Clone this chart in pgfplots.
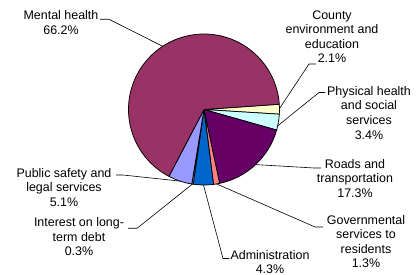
\documentclass[border=0pt]{standalone}
\usepackage{pgfplots}
\usepackage{pgfplotstable}
\pgfplotsset{compat=1.18}
\usepackage{fontspec}
\setmainfont{Liberation Sans}
\definecolor{slice0}{HTML}{FFFFCC}
\definecolor{slice1}{HTML}{CCFFFF}
\definecolor{slice2}{HTML}{660066}
\definecolor{slice3}{HTML}{FF8080}
\definecolor{slice4}{HTML}{0066CC}
\definecolor{slice5}{HTML}{CCCCFF}
\definecolor{slice6}{HTML}{9999FF}
\definecolor{slice7}{HTML}{993366}
\pgfplotstableread{
value
2.1
3.4
17.3
1.3
4.3
0.3
5.1
66.2
}\piedata
\newcommand\lbl[3]{\node[anchor=base,inner sep=0pt] at (axis cs:#1,{275-#2}) {#3};}
\begin{document}
\begin{tikzpicture}
\begin{axis}[
  x=1bp, y=1bp, xmin=0, xmax=417, ymin=0, ymax=275,
  hide axis, clip=false, scale only axis,
]
\pgfplotsextra{%
  \path (axis cs:0,0) rectangle (axis cs:417,275);
  \gdef\curang{4}%
  \foreach \i in {0,...,7}{%
    \pgfplotstablegetelem{\i}{value}\of\piedata
    \pgfmathsetmacro\endang{\curang-3.6*\pgfplotsretval}%
    \filldraw[fill=slice\i, draw=black, line width=0.75bp, line join=round]
      (axis cs:204,165.5) -- (axis cs:{204+75.5*cos(\curang)},{165.5+75.5*sin(\curang)})
      arc[start angle=\curang, end angle=\endang, radius=75.5bp] -- cycle;
    \xdef\curang{\endang}%
  }%
  \begin{scope}[line width=0.6bp]
  \draw (axis cs:100,{275-19.3}) -- (axis cs:109,{275-19.3}) -- (axis cs:162.7,{275-46.3});
  \draw (axis cs:316,{275-64}) -- (axis cs:309,{275-64}) -- (axis cs:279.5,{275-108.5});
  \draw (axis cs:325,{275-92.5}) -- (axis cs:319,{275-92.5}) -- (axis cs:277.5,{275-126});
  \draw (axis cs:321,{275-168}) -- (axis cs:314,{275-168}) -- (axis cs:255.6,{275-164.6});
  \draw (axis cs:323,{275-227}) -- (axis cs:315,{275-227}) -- (axis cs:216.6,{275-183.9});
  \draw (axis cs:229,{275-258.5}) -- (axis cs:223,{275-258.5}) -- (axis cs:203.5,{275-185});
  \draw (axis cs:128,{275-228.3}) -- (axis cs:137,{275-228.3}) -- (axis cs:192.4,{275-184.1});
  \draw (axis cs:116,{275-175}) -- (axis cs:123,{275-175}) -- (axis cs:179.9,{275-181.1});
  \end{scope}
  \begin{scope}[font=\fontsize{12.5}{14.5}\selectfont]
  \lbl{61}{19.3}{Mental health}
  \lbl{61}{34.5}{66.2\%}
  \lbl{332}{19}{County}
  \lbl{332}{33.5}{environment and}
  \lbl{332}{48}{education}
  \lbl{332}{62.5}{2.1\%}
  \lbl{369}{95}{Physical health}
  \lbl{369}{109.7}{and social}
  \lbl{369}{124.4}{services}
  \lbl{369}{139}{3.4\%}
  \lbl{355}{168}{Roads and}
  \lbl{355}{182.5}{transportation}
  \lbl{355}{197}{17.3\%}
  \lbl{366}{224}{Governmental}
  \lbl{366}{238.5}{services to}
  \lbl{366}{253}{residents}
  \lbl{366}{267.5}{1.3\%}
  \lbl{270}{259}{Administration}
  \lbl{270}{273.5}{4.3\%}
  \lbl{79}{226.7}{Interest on long-}
  \lbl{79}{241.2}{term debt}
  \lbl{79}{255.7}{0.3\%}
  \lbl{64}{177}{Public safety and}
  \lbl{64}{191.5}{legal services}
  \lbl{64}{206}{5.1\%}
  \end{scope}
}
\end{axis}
\end{tikzpicture}
\end{document}
